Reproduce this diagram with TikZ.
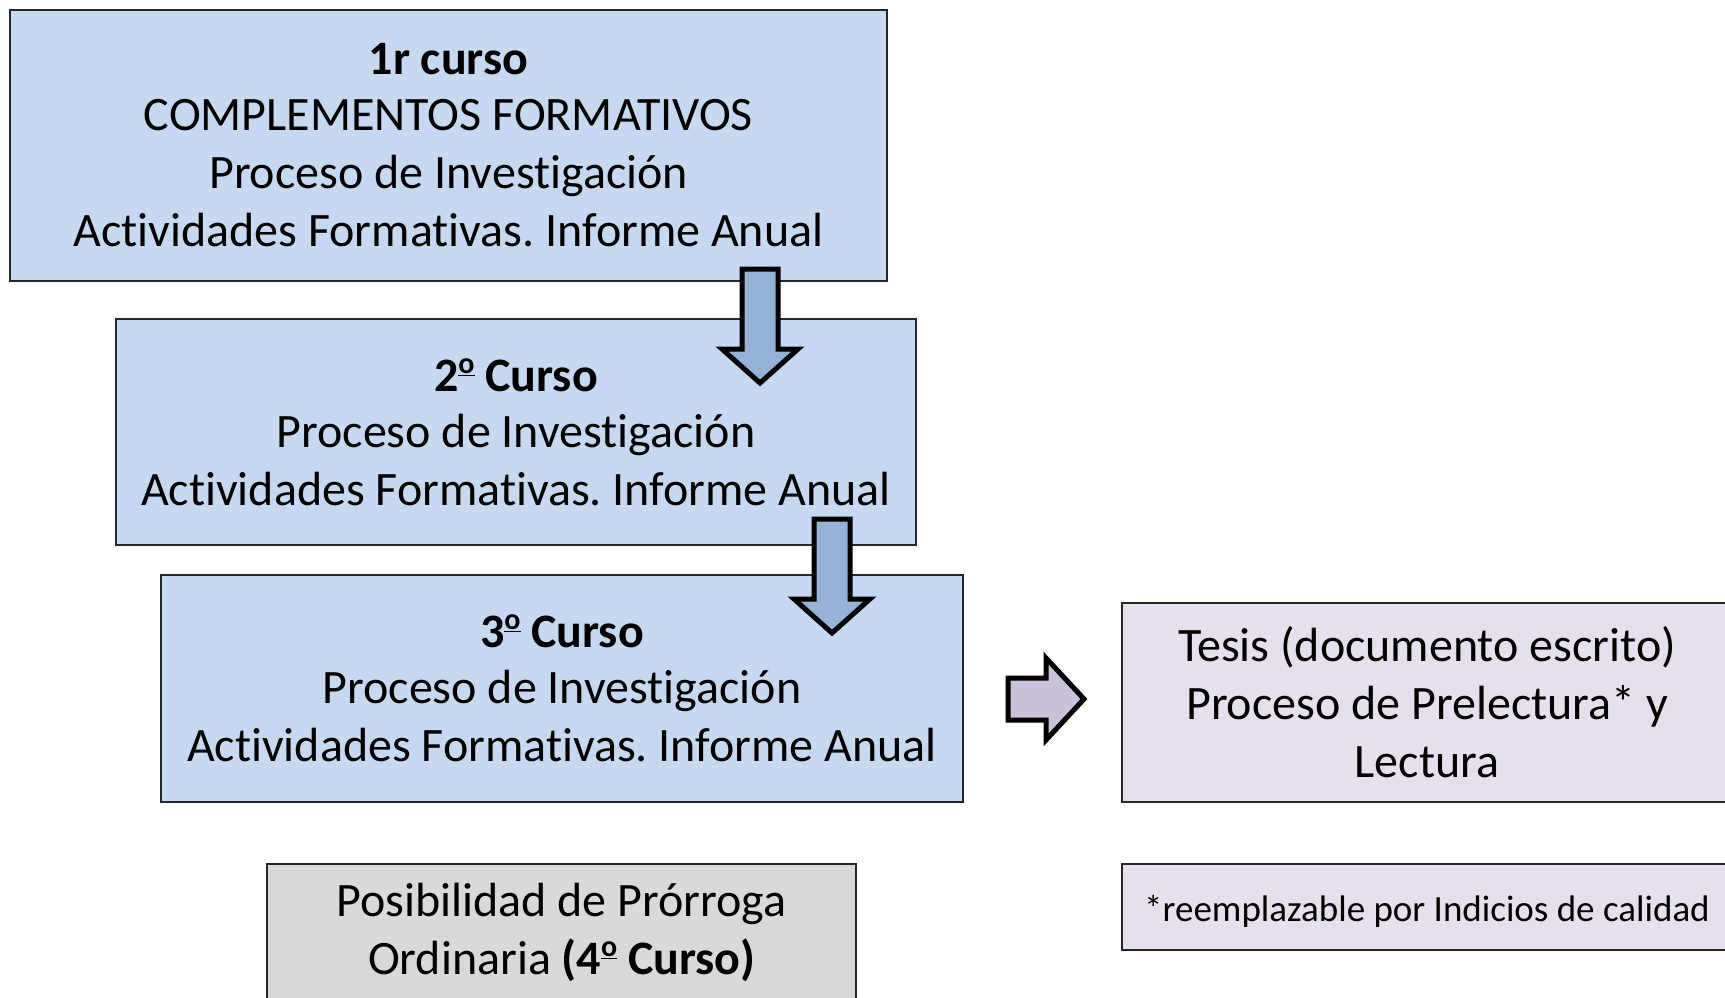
\documentclass[tikz,border=0pt]{standalone}
\usepackage{fontspec}
\setmainfont{Carlito}[Ligatures=NoCommon]
\usetikzlibrary{positioning}
\frenchspacing

\definecolor{azulcaja}{HTML}{C6D9F1}
\definecolor{azulflecha}{HTML}{95B3D7}
\definecolor{moradocaja}{HTML}{E6E0EC}
\definecolor{moradoflecha}{HTML}{CCC1DA}
\definecolor{griscaja}{HTML}{D9D9D9}

% ordinal masculino subrayado
\newcommand{\nro}{\raisebox{0.38em}{\fontsize{30}{30}\selectfont\underline{o}}}

\tikzset{
  caja/.style={draw=black!85, line width=2pt, align=center, inner sep=0pt,
    outer sep=0pt, anchor=north west, font=\fontsize{48}{58}\selectfont,
    execute at begin node={\rule{0pt}{0.92em}}},
  flecha/.style={draw=black, line width=5pt, line join=miter},
  pics/flechabajo/.style={code={
    \draw[flecha, fill=azulflecha] (-18,0) -- (18,0) -- (18,80) -- (38,80)
      -- (0,114) -- (-38,80) -- (-18,80) -- cycle;
  }},
}

\begin{document}
\begin{tikzpicture}[x=1pt,y=-1pt]
    \clip (0,0) rectangle (1725,997);

    % Cursos
    \node (curso1) [caja, fill=azulcaja, minimum width=877pt, minimum height=271pt] at (10,10)
        {\textbf{1r curso}\\[-2pt]COMPLEMENTOS FORMATIVOS\\Proceso de Investigación\\Actividades Formativas. Informe Anual};
    \node (curso2) [caja, fill=azulcaja, minimum width=800pt, minimum height=226pt,
        below right=38pt and 106pt of curso1.south west]
        {\textbf{2\nro\ Curso}\\[-2pt]Proceso de Investigación\\Actividades Formativas. Informe Anual};
    \node (curso3) [caja, fill=azulcaja, minimum width=802pt, minimum height=227pt,
        below right=30pt and 45pt of curso2.south west]
        {\textbf{3\nro\ Curso}\\[-2pt]Proceso de Investigación\\Actividades Formativas. Informe Anual};

    % Tesis y nota
    \node (tesis) [caja, fill=moradocaja, minimum width=610pt, minimum height=199pt,
        below right=28pt and 159pt of curso3.north east]
        {Tesis (documento escrito)\\Proceso de Prelectura* y\\Lectura};
    \node (nota) [caja, fill=moradocaja, minimum width=610pt, minimum height=86pt,
        font=\fontsize{37}{44}\selectfont, below right=62pt and 0pt of tesis.south west]
        {*reemplazable por Indicios de calidad};

    % Prorroga
    \node (prorroga) [caja, fill=griscaja, minimum width=589pt, minimum height=137pt,
        below right=62pt and 106pt of curso3.south west]
        {Posibilidad de Prórroga\\Ordinaria \textbf{(4\nro\ Curso)}};

    % Flechas
    \pic at (760,269) {flechabajo};
    \pic at (832,519) {flechabajo};
    \draw[flecha, fill=moradoflecha] (1008,678) -- (1046,678) -- (1046,658)
        -- (1084,699) -- (1046,740) -- (1046,720) -- (1008,720) -- cycle;
\end{tikzpicture}
\end{document}
